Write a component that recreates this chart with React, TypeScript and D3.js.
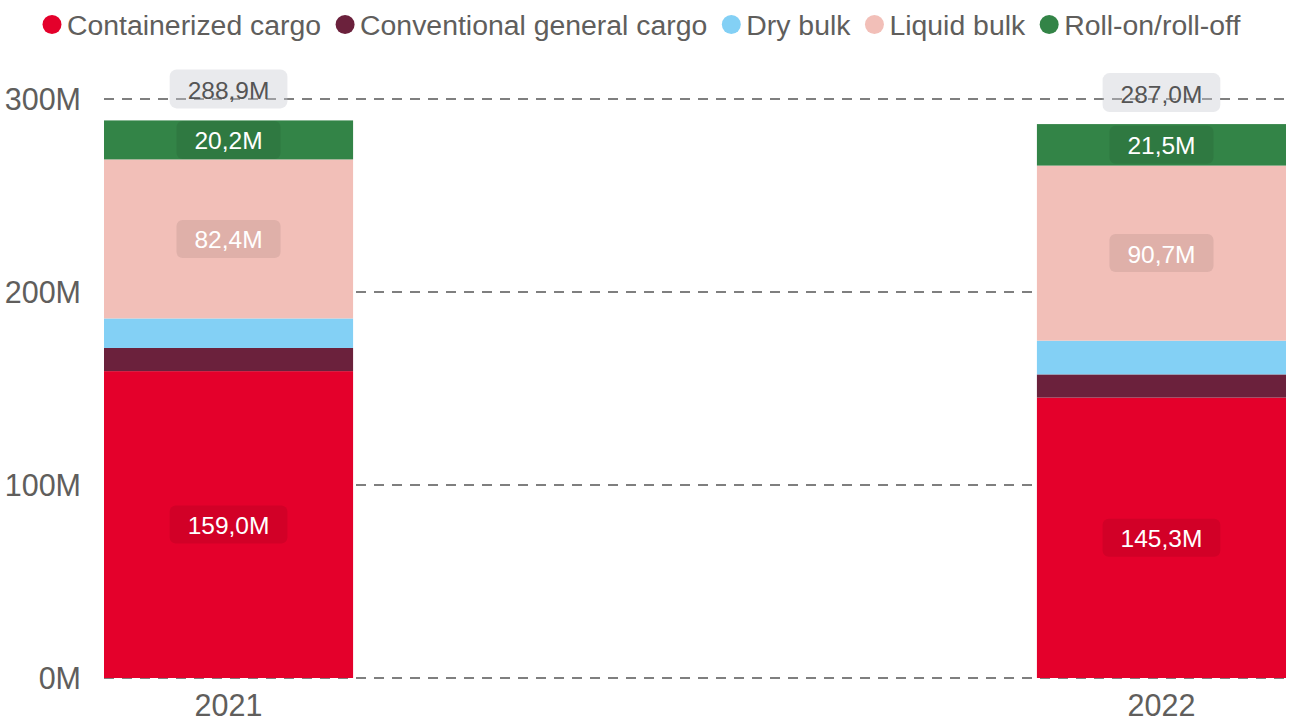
import React from "react";
import * as d3 from "d3";

const years = ["2021", "2022"];
const seriesNames = [
  "Containerized cargo",
  "Conventional general cargo",
  "Dry bulk",
  "Liquid bulk",
  "Roll-on/roll-off",
];
const seriesColors = ["#E4002B", "#6B213C", "#83D0F5", "#F2BFB8", "#338447"];
const containerized = [159.0, 145.3];
const conventional = [12.0, 12.0];
const dryBulk = [15.3, 17.5];
const liquidBulk = [82.4, 90.7];
const rollOnOff = [20.2, 21.5];
const totals = [288.9, 287.0];
const yTicks = [0, 100, 200, 300];

const W = 1291;
const H = 723;
const FONT = "'Liberation Sans', Arial, sans-serif";

const fmt = (v: number) => v.toFixed(1).replace(".", ",") + "M";

function measure(text: string, size: number) {
  const c = document.createElement("canvas");
  const ctx = c.getContext("2d")!;
  ctx.font = `${size}px ${FONT}`;
  return ctx.measureText(text).width;
}

export default function App() {
  const x = d3.scaleBand<string>().domain(years).range([104, 1286]).paddingInner(0.733).paddingOuter(0);
  const y = d3.scaleLinear().domain([0, 300]).range([678, 99]);

  const rows = years.map((yr, i) => ({
    year: yr,
    s0: containerized[i],
    s1: conventional[i],
    s2: dryBulk[i],
    s3: liquidBulk[i],
    s4: rollOnOff[i],
  }));
  const keys = ["s0", "s1", "s2", "s3", "s4"];
  const stacked = d3.stack<any>().keys(keys)(rows);

  // legend layout
  const legendFont = 28.4;
  let cx = 52;
  const legendItems = seriesNames.map((name, i) => {
    const item = { name, color: seriesColors[i], cx, tx: cx + 15 };
    cx = cx + 15 + measure(name, legendFont) + 24;
    return item;
  });

  const labelFont = 24.5;
  const bw = x.bandwidth();

  return (
    <svg width={W} height={H} style={{ position: "absolute", left: 0, top: 0, display: "block" }} fontFamily={FONT}>
      <rect width={W} height={H} fill="#fff" />
      {/* legend */}
      {legendItems.map((it) => (
        <g key={it.name}>
          <circle cx={it.cx} cy={24.5} r={9.5} fill={it.color} />
          <text x={it.tx} y={24.5} dominantBaseline="central" fontSize={legendFont} fill="#605E5C">
            {it.name}
          </text>
        </g>
      ))}
      {/* gridlines */}
      {yTicks.map((t) => (
        <line key={t} x1={104} x2={1286} y1={y(t)} y2={y(t)} stroke="#7f7f7f" strokeWidth={2} strokeDasharray="10,8" />
      ))}
      {/* y labels */}
      {yTicks.map((t) => (
        <text key={"l" + t} x={81} y={y(t)} textAnchor="end" dominantBaseline="central" fontSize={30.5} fill="#605E5C">
          {t + "M"}
        </text>
      ))}
      {/* bars */}
      {stacked.map((layer, si) =>
        layer.map((d, i) => (
          <rect
            key={si + "-" + i}
            x={x(years[i])}
            y={y(d[1])}
            width={bw}
            height={y(d[0]) - y(d[1])}
            fill={seriesColors[si]}
          />
        ))
      )}
      {/* segment labels */}
      {stacked.map((layer, si) =>
        layer.map((d, i) => {
          const h = y(d[0]) - y(d[1]);
          if (h < 38) return null;
          const v = d[1] - d[0];
          const label = fmt(v);
          const tw = measure(label, labelFont);
          const bx = (x(years[i]) as number) + bw / 2;
          const by = (y(d[0]) + y(d[1])) / 2;
          const boxH = Math.min(38, h);
          return (
            <g key={"sl" + si + "-" + i}>
              <rect x={bx - tw / 2 - 18} y={by - boxH / 2} width={tw + 36} height={boxH} rx={6} fill="rgba(0,0,0,0.08)" />
              <text x={bx} y={by + 1} textAnchor="middle" dominantBaseline="central" fontSize={labelFont} fill="#fff">
                {label}
              </text>
            </g>
          );
        })
      )}
      {/* totals */}
      {years.map((yr, i) => {
        const label = fmt(totals[i]);
        const tw = measure(label, labelFont);
        const bx = (x(yr) as number) + bw / 2;
        const by = y(totals[i]) - 12 - 19.5;
        return (
          <g key={"t" + yr}>
            <rect x={bx - tw / 2 - 18} y={by - 19.5} width={tw + 36} height={39} rx={7} fill="rgba(200,203,209,0.4)" />
            <text x={bx} y={by + 2} textAnchor="middle" dominantBaseline="central" fontSize={labelFont} fill="#555">
              {label}
            </text>
          </g>
        );
      })}
      {/* x labels */}
      {years.map((yr) => (
        <text
          key={"x" + yr}
          x={(x(yr) as number) + bw / 2}
          y={705}
          textAnchor="middle"
          dominantBaseline="central"
          fontSize={30.5}
          fill="#605E5C"
        >
          {yr}
        </text>
      ))}
    </svg>
  );
}
